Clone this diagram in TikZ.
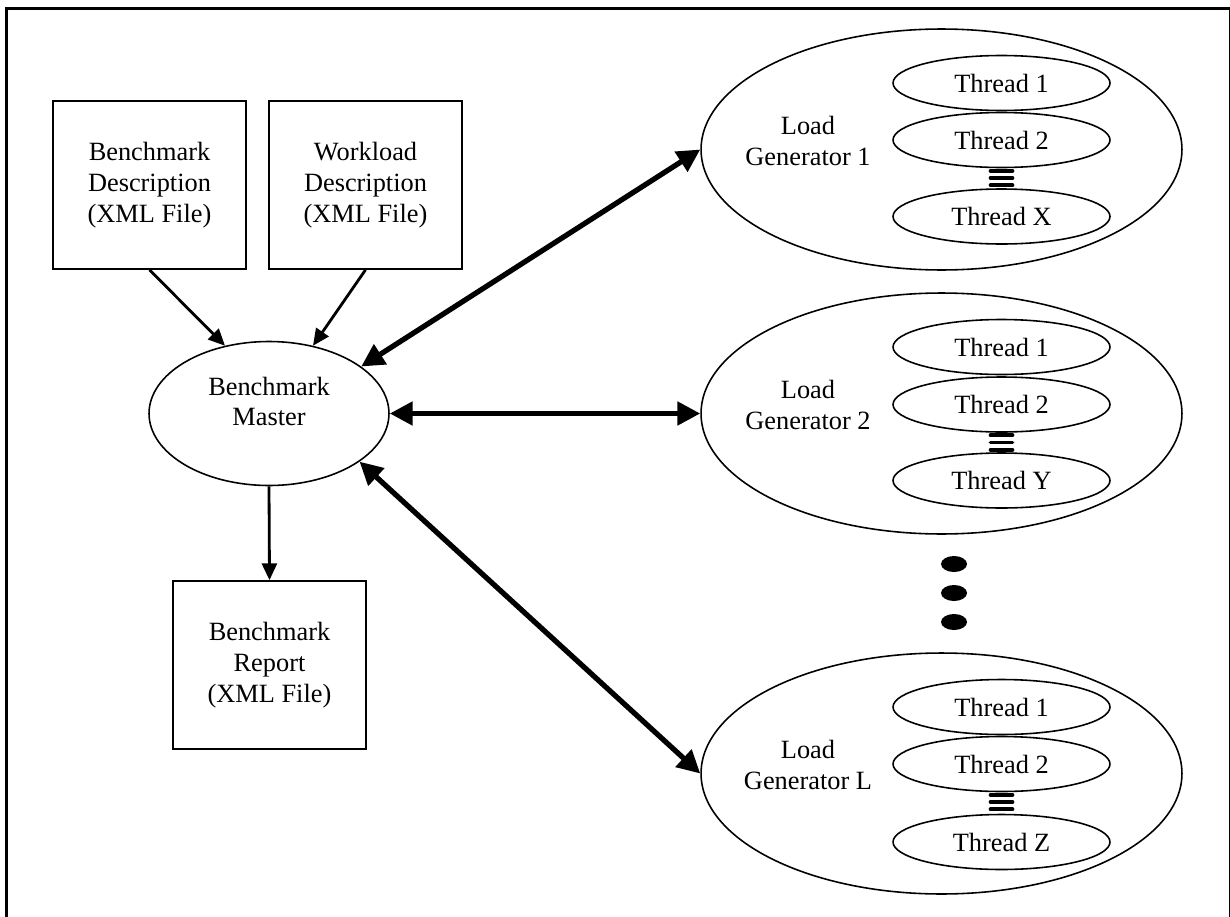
\documentclass[tikz,border=0pt]{standalone}
\usepackage{fontspec}
\setmainfont{Liberation Serif}
\usetikzlibrary{positioning, arrows.meta, shapes.geometric, calc}

\begin{document}
\begin{tikzpicture}[
    x=0.02cm, y=-0.02cm,
    font=\fontsize{15}{17.5}\selectfont,
    file/.style={rectangle, draw, line width=1pt, minimum width=3.86cm, minimum height=3.36cm, inner sep=0pt, align=center},
    oval/.style={ellipse, draw, line width=0.9pt, minimum width=4.8cm, minimum height=2.88cm, inner sep=0pt},
    gen/.style={ellipse, draw, line width=0.9pt, minimum width=9.62cm, minimum height=4.82cm, inner sep=0pt},
    thread/.style={ellipse, draw, line width=0.9pt, minimum width=4.34cm, minimum height=1.1cm, inner sep=0pt},
    txt/.style={align=center, inner sep=0pt},
    feed/.style={-{Triangle[length=9.5pt,width=8.5pt]}, line width=1.6pt},
    link/.style={{Triangle[length=13pt,width=13pt]}-{Triangle[length=13pt,width=13pt]}, line width=3pt},
    spring/.style={line width=2.1pt, line cap=round},
    dot/.style={ellipse, fill, minimum width=0.52cm, minimum height=0.32cm, inner sep=0pt}
]

    % --- Moldura ---
    \useasboundingbox (0,0) rectangle (1230,916);
    \draw[line width=1.3pt] (6.5,930) |- (1230,8.5) -- (1230,930);

    % --- Ficheiros de entrada ---
    \node[file] (bdesc) at (149.5,185) {Benchmark\\Description\\(XML File)};
    \node[file] (wdesc) at (365.5,185) {Workload\\Description\\(XML File)};

    % --- Master e relatorio ---
    \node[oval] (master) at (269,413.5) {};
    \node[txt] (mastertxt) at (269,401.5) {Benchmark\\Master};
    \node[file] (report) at (269.5,665) {Benchmark\\Report\\(XML File)};

    \draw[feed] (bdesc.south) -- (master.123);
    \draw[feed] (wdesc.south) -- (master.57);
    \draw[feed] (master.south) -- (report.north);

    % ==================================================
    % Load Generator 1
    % ==================================================
    \node[gen] (lg1) at (941.5,149.5) {};
    \node[txt] (lg1txt) at (808,141) {Load\\Generator 1};
    \node[thread] (t11) at (1001.5,83) {Thread 1};
    \node[thread] (t12) at (1001.5,140) {Thread 2};
    \node[thread] (t1x) at (1001.5,216.5) {Thread X};

    \draw[spring] ([xshift=-0.22cm,yshift=-0.05cm]t12.south) -- ([xshift=0.22cm,yshift=-0.05cm]t12.south);
    \draw[spring] ([xshift=-0.22cm,yshift=-0.194cm]t12.south) -- ([xshift=0.22cm,yshift=-0.194cm]t12.south);
    \draw[spring] ([xshift=-0.22cm,yshift=-0.34cm]t12.south) -- ([xshift=0.22cm,yshift=-0.34cm]t12.south);

    % ==================================================
    % Load Generator 2
    % ==================================================
    \node[gen] (lg2) at (941.5,413.5) {};
    \node[txt] (lg2txt) at (808,405) {Load\\Generator 2};
    \node[thread] (t21) at (1001.5,347) {Thread 1};
    \node[thread] (t22) at (1001.5,404.5) {Thread 2};
    \node[thread] (t2y) at (1001.5,480.5) {Thread Y};

    \draw[spring] ([xshift=-0.22cm,yshift=-0.05cm]t22.south) -- ([xshift=0.22cm,yshift=-0.05cm]t22.south);
    \draw[spring] ([xshift=-0.22cm,yshift=-0.194cm]t22.south) -- ([xshift=0.22cm,yshift=-0.194cm]t22.south);
    \draw[spring] ([xshift=-0.22cm,yshift=-0.34cm]t22.south) -- ([xshift=0.22cm,yshift=-0.34cm]t22.south);

    % --- Reticencias ---
    \node[dot] (dot1) at (954,564) {};
    \node[dot] (dot2) at (954,593) {};
    \node[dot] (dot3) at (954,622) {};

    % ==================================================
    % Load Generator L
    % ==================================================
    \node[gen] (lgL) at (941.5,773.5) {};
    \node[txt] (lgLtxt) at (808,765) {Load\\Generator L};
    \node[thread] (tL1) at (1001.5,707) {Thread 1};
    \node[thread] (tL2) at (1001.5,764) {Thread 2};
    \node[thread] (tLz) at (1001.5,842) {Thread Z};

    \draw[spring] ([xshift=-0.22cm,yshift=-0.05cm]tL2.south) -- ([xshift=0.22cm,yshift=-0.05cm]tL2.south);
    \draw[spring] ([xshift=-0.22cm,yshift=-0.194cm]tL2.south) -- ([xshift=0.22cm,yshift=-0.194cm]tL2.south);
    \draw[spring] ([xshift=-0.22cm,yshift=-0.34cm]tL2.south) -- ([xshift=0.22cm,yshift=-0.34cm]tL2.south);

    % --- Ligacoes master <-> geradores ---
    \draw[link] (master.27) -- (lg1.west);
    \draw[link] (master.east) -- (lg2.west);
    \draw[link] (master.-28) -- (lgL.west);

\end{tikzpicture}
\end{document}
